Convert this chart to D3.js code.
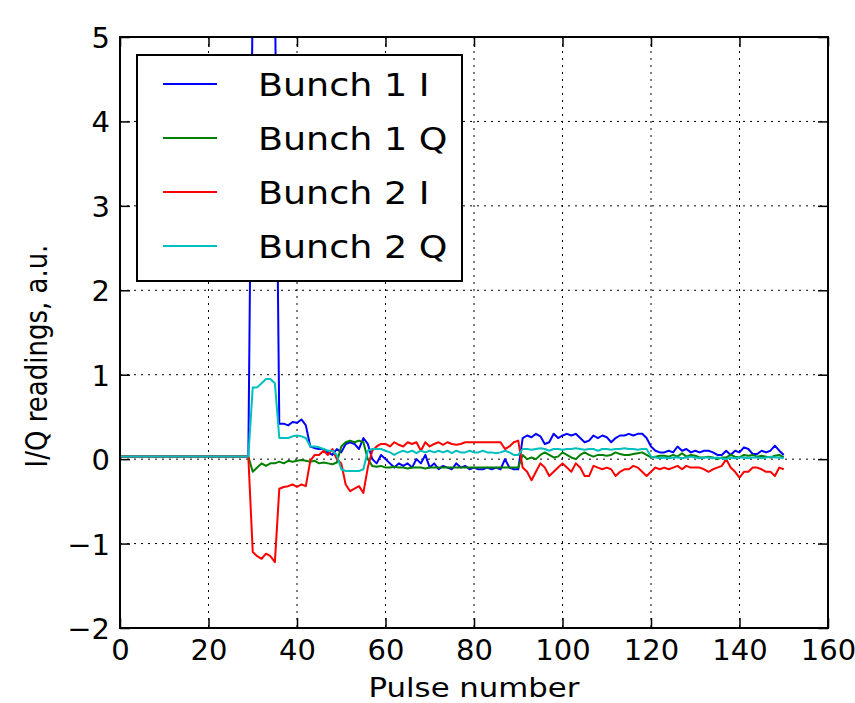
<!DOCTYPE html>
<html>
<head>
<meta charset="utf-8">
<script src="https://cdn.jsdelivr.net/npm/d3@7"></script>
<style>
  body { margin: 0; background: #fff; }
  text { font-family: "DejaVu Sans", sans-serif; fill: #000; }
</style>
</head>
<body>
<script>
const WIDTH = 855;
const HEIGHT = 703;
const MARGIN = {left: 120, right: 27, top: 37, bottom: 75};

const X_TICKS = [0, 20, 40, 60, 80, 100, 120, 140, 160];
const Y_TICKS = [-2, -1, 0, 1, 2, 3, 4, 5];
const SERIES_NAMES = ["Bunch 1 I", "Bunch 1 Q", "Bunch 2 I", "Bunch 2 Q"];
const COLORS = ["#0000ff", "#008000", "#ff0000", "#00bfbf"];

// pulse numbers 0..150
const PULSES = d3.range(0, 151);

// readings per pulse (pulses 0-29 flat)
const FLAT = [0.03,0.03,0.03,0.03,0.03,0.03,0.03,0.03,0.03,0.03,
              0.03,0.03,0.03,0.03,0.03,0.03,0.03,0.03,0.03,0.03,
              0.03,0.03,0.03,0.03,0.03,0.03,0.03,0.03,0.03,0.03];

const BUNCH1_I = FLAT.concat([
  5.6,5.6,5.6,5.6,5.6,5.6,0.42,0.42,0.40,0.44,
  0.43,0.47,0.40,0.15,0.13,0.12,0.12,0.08,0.05,0.12,
  0.08,0.18,0.20,0.18,0.12,0.25,0.18,0.00,-0.05,0.05,
  0.00,-0.05,-0.10,-0.05,-0.08,-0.05,-0.10,0.00,-0.05,0.05,
  -0.10,-0.05,-0.12,-0.08,-0.10,-0.12,-0.05,-0.10,-0.08,-0.12,
  -0.10,-0.12,-0.12,-0.10,-0.12,-0.10,-0.12,0.00,-0.10,-0.12,
  -0.12,0.25,0.28,0.26,0.30,0.27,0.18,0.20,0.30,0.25,
  0.28,0.30,0.28,0.30,0.25,0.20,0.22,0.28,0.25,0.28,
  0.26,0.20,0.25,0.28,0.28,0.30,0.28,0.30,0.30,0.25,
  0.15,0.10,0.08,0.08,0.10,0.08,0.15,0.10,0.12,0.08,
  0.10,0.08,0.10,0.10,0.08,0.05,0.05,0.10,0.05,0.10,
  0.08,0.14,0.12,0.06,0.06,0.10,0.08,0.10,0.16,0.10,
  0.05]);

const BUNCH1_Q = FLAT.concat([
  -0.15,-0.10,-0.05,-0.08,-0.05,-0.05,-0.03,-0.05,-0.02,-0.03,
  -0.02,-0.01,-0.02,-0.03,-0.02,-0.05,-0.04,-0.05,-0.06,-0.04,
  0.15,0.20,0.22,0.20,0.22,0.20,0.00,-0.08,-0.09,-0.08,
  -0.10,-0.10,-0.09,-0.10,-0.10,-0.11,-0.10,-0.10,-0.10,-0.11,
  -0.10,-0.10,-0.10,-0.10,-0.10,-0.10,-0.10,-0.10,-0.10,-0.10,
  -0.10,-0.10,-0.10,-0.10,-0.10,-0.10,-0.10,-0.10,-0.10,-0.10,
  -0.10,0.05,0.00,0.02,0.00,0.05,0.08,0.05,0.02,0.03,
  0.08,0.05,0.02,0.00,0.05,0.08,0.05,0.03,0.05,0.05,
  0.04,0.05,0.08,0.06,0.05,0.05,0.06,0.07,0.08,0.05,
  0.02,0.03,0.04,0.04,0.03,0.05,0.03,0.07,0.03,0.05,
  0.04,0.02,0.02,0.03,0.02,0.00,0.02,0.02,0.05,0.03,
  0.02,0.05,0.04,0.05,0.03,0.04,0.03,0.02,0.04,0.05,
  0.02]);

const BUNCH2_I = FLAT.concat([
  -1.10,-1.15,-1.18,-1.12,-1.15,-1.22,-0.35,-0.33,-0.32,-0.30,
  -0.33,-0.30,-0.32,-0.02,0.05,0.05,0.10,0.05,0.12,0.00,
  -0.05,-0.30,-0.38,-0.35,-0.32,-0.40,-0.10,0.10,0.15,0.18,
  0.18,0.15,0.20,0.17,0.15,0.20,0.18,0.20,0.10,0.20,
  0.15,0.18,0.20,0.17,0.20,0.18,0.17,0.18,0.20,0.20,
  0.20,0.20,0.20,0.20,0.20,0.20,0.20,0.12,0.15,0.20,
  0.22,-0.10,-0.15,-0.25,-0.15,-0.05,-0.10,-0.20,-0.15,-0.10,
  -0.05,-0.10,-0.15,-0.05,-0.10,-0.20,-0.20,-0.08,-0.10,-0.12,
  -0.10,-0.12,-0.20,-0.15,-0.12,-0.12,-0.08,-0.10,-0.15,-0.20,
  -0.15,-0.10,-0.12,-0.10,-0.12,-0.10,-0.08,-0.12,-0.08,-0.10,
  -0.10,-0.10,-0.12,-0.15,-0.12,-0.10,-0.08,0.00,-0.10,-0.15,
  -0.22,-0.15,-0.15,-0.10,-0.10,-0.12,-0.15,-0.15,-0.20,-0.10,
  -0.12]);

const BUNCH2_Q = FLAT.concat([
  0.85,0.85,0.90,0.95,0.95,0.90,0.25,0.25,0.25,0.27,
  0.28,0.27,0.25,0.15,0.15,0.14,0.12,0.10,0.10,0.05,
  -0.12,-0.14,-0.14,-0.14,-0.14,-0.12,0.10,0.12,0.12,0.12,
  0.10,0.08,0.05,0.08,0.10,0.08,0.10,0.07,0.10,0.08,
  0.10,0.08,0.10,0.08,0.10,0.07,0.10,0.08,0.08,0.10,
  0.08,0.08,0.10,0.08,0.08,0.07,0.08,0.10,0.08,0.05,
  0.05,0.12,0.12,0.11,0.12,0.13,0.12,0.10,0.12,0.12,
  0.11,0.12,0.12,0.13,0.12,0.11,0.12,0.12,0.10,0.12,
  0.12,0.11,0.12,0.12,0.13,0.12,0.12,0.11,0.12,0.12,
  0.03,0.02,0.01,0.02,0.01,0.02,0.02,0.01,0.02,0.03,
  0.02,0.01,0.02,0.02,0.01,0.02,0.01,0.00,0.02,0.01,
  0.02,0.02,0.01,0.02,0.02,0.01,0.02,0.03,0.02,0.02,
  0.01]);

const SERIES = [BUNCH1_I, BUNCH1_Q, BUNCH2_I, BUNCH2_Q];

// the source picture's text is a bit wider than the font
const TEXT_STRETCH = 1.14;

const svg = d3.select("body")
              .append("svg")
              .attr("width", WIDTH)
              .attr("height", HEIGHT);

const xScale = d3.scaleLinear()
                 .domain([0, 160])
                 .range([MARGIN.left, WIDTH - MARGIN.right]);

const yScale = d3.scaleLinear()
                 .domain([-2, 5])
                 .range([HEIGHT - MARGIN.bottom, MARGIN.top]);

const [x0, x1] = xScale.range();
const [y0, y1] = yScale.range();

//dotted grid
const setGrid = () => {
  const grid = svg.append("g")
                  .attr("stroke", "#000")
                  .attr("stroke-width", 1)
                  .attr("stroke-dasharray", "2,5");
  grid.selectAll(".vgrid")
      .data(X_TICKS.slice(1, -1))
      .enter()
      .append("line")
      .attr("x1", d => xScale(d)).attr("x2", d => xScale(d))
      .attr("y1", y1).attr("y2", y0);
  grid.selectAll(".hgrid")
      .data(Y_TICKS.slice(1, -1))
      .enter()
      .append("line")
      .attr("x1", x0).attr("x2", x1)
      .attr("y1", d => yScale(d)).attr("y2", d => yScale(d));
};

//axes with inward ticks on all four sides
const setAxis = () => {
  const tick = 10;
  const bottom = svg.append("g")
                    .attr("transform", "translate(0," + y0 + ")")
                    .call(d3.axisBottom(xScale).tickValues(X_TICKS).tickSize(-tick).tickPadding(11));
  const top = svg.append("g")
                 .attr("transform", "translate(0," + y1 + ")")
                 .call(d3.axisTop(xScale).tickValues(X_TICKS).tickSize(-tick).tickFormat(""));
  const left = svg.append("g")
                  .attr("transform", "translate(" + x0 + ",0)")
                  .call(d3.axisLeft(yScale).tickValues(Y_TICKS).tickSize(-tick).tickPadding(10)
                          .tickFormat(d => d < 0 ? "\u2212" + Math.abs(d) : d));
  const right = svg.append("g")
                   .attr("transform", "translate(" + x1 + ",0)")
                   .call(d3.axisRight(yScale).tickValues(Y_TICKS).tickSize(-tick).tickFormat(""));

  [bottom, top, left, right].forEach(g => {
    g.select(".domain").remove();
    g.selectAll(".tick line").attr("stroke", "#000").attr("stroke-width", 1.5);
    g.selectAll(".tick text")
     .attr("font-family", "DejaVu Sans")
     .attr("font-size", 29)
     .attr("fill", "#000");
  });
  left.selectAll(".tick text").attr("dy", "0.36em");

  svg.append("text")
     .attr("transform", "translate(" + ((x0 + x1) / 2) + ",697) scale(" + TEXT_STRETCH + ",1)")
     .attr("text-anchor", "middle")
     .attr("font-size", 27)
     .text("Pulse number");

  svg.append("text")
     .attr("transform", "translate(47,356) scale(" + TEXT_STRETCH + ",1) rotate(-90)")
     .attr("text-anchor", "middle")
     .attr("font-size", 26)
     .text("I/Q readings, a.u.");
};

const setLines = () => {
  svg.append("clipPath")
     .attr("id", "plot-clip")
     .append("rect")
     .attr("x", x0).attr("y", y1)
     .attr("width", x1 - x0).attr("height", y0 - y1);

  const line = d3.line()
                 .x((d, i) => xScale(PULSES[i]))
                 .y(d => yScale(d));

  svg.append("g")
     .attr("clip-path", "url(#plot-clip)")
     .selectAll("path")
     .data(SERIES)
     .enter()
     .append("path")
     .attr("d", line)
     .attr("fill", "none")
     .attr("stroke", (d, i) => COLORS[i])
     .attr("stroke-width", 2)
     .attr("stroke-linejoin", "round");
};

const setFrame = () => {
  svg.append("rect")
     .attr("x", x0).attr("y", y1)
     .attr("width", x1 - x0).attr("height", y0 - y1)
     .attr("fill", "none")
     .attr("stroke", "#000")
     .attr("stroke-width", 2);
};

const setLegend = () => {
  const legend = svg.append("g")
                    .attr("transform", "translate(137,55)");
  legend.append("rect")
        .attr("width", 325)
        .attr("height", 226)
        .attr("fill", "#fff")
        .attr("stroke", "#000")
        .attr("stroke-width", 2);
  const rows = legend.selectAll(".row")
                     .data(SERIES_NAMES)
                     .enter()
                     .append("g")
                     .attr("transform", (d, i) => "translate(0," + (29 + i * 54) + ")");
  rows.append("line")
      .attr("x1", 26).attr("x2", 80)
      .attr("stroke", (d, i) => COLORS[i])
      .attr("stroke-width", 2);
  rows.append("text")
      .attr("transform", "translate(121,0) scale(" + TEXT_STRETCH + ",1)")
      .attr("dy", "0.36em")
      .attr("font-size", 32)
      .text(d => d);
};

setGrid();
setLines();
setFrame();
setAxis();
setLegend();
</script>
</body>
</html>
